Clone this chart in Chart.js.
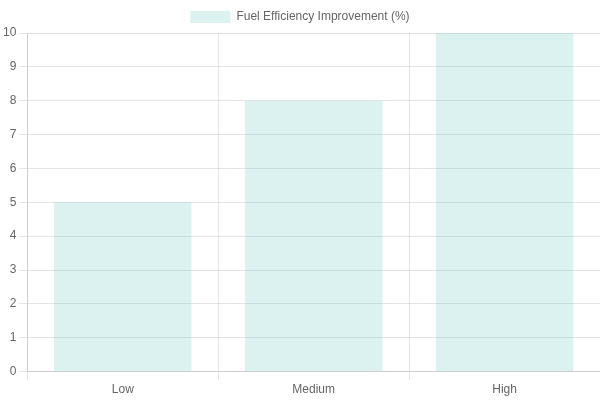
<!DOCTYPE html>
<html>
<head>
<meta charset="utf-8">
<script src="https://cdn.jsdelivr.net/npm/chart.js@4"></script>
<style>
  html, body { margin: 0; padding: 0; background: #fff; }
  #wrap { width: 600px; height: 400px; }
</style>
</head>
<body>
<div id="wrap"><canvas id="barChart"></canvas></div>
<script>
var categories = ["Low", "Medium", "High"];
var improvement = [5, 8, 10];
var seriesLabel = "Fuel Efficiency Improvement (%)";

var config = {
    type: 'bar',
    data: {
        labels: categories,
        datasets: [{
            label: seriesLabel,
            data: improvement,
            backgroundColor: "rgba(75, 192, 180, 0.2)",
            borderWidth: 0
        }]
    },
    options: {
        responsive: true,
        maintainAspectRatio: false,
        animation: false,
        layout: { padding: { top: 1 } },
        scales: {
            y: {
                beginAtZero: true,
                max: 10,
                ticks: { stepSize: 1 }
            }
        }
    }
};

new Chart(document.getElementById("barChart"), config);
</script>
</body>
</html>
